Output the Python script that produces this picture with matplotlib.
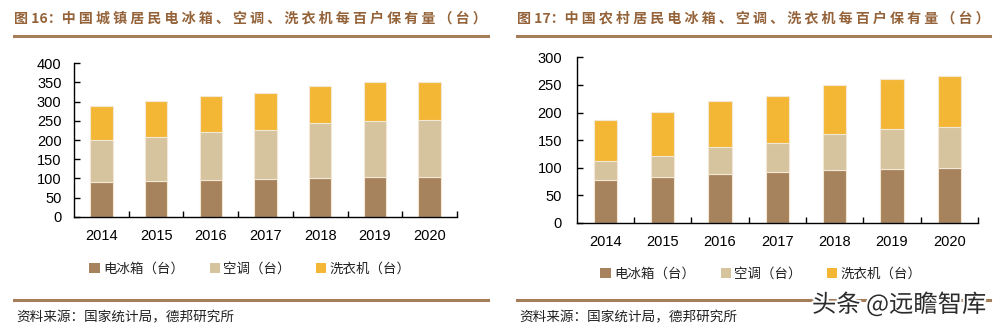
import matplotlib.pyplot as plt
import matplotlib.patheffects as pe
from matplotlib.lines import Line2D
from matplotlib.patches import Patch
import numpy as np

years = ['2014', '2015', '2016', '2017', '2018', '2019', '2020']

# 城镇居民每百户保有量（台）
urban_fridge = [91.7, 94.0, 96.4, 98.0, 100.9, 102.5, 103.1]
urban_ac = [107.4, 114.6, 123.7, 128.6, 142.2, 148.3, 149.6]
urban_washer = [90.7, 92.3, 94.2, 95.7, 97.7, 99.2, 99.7]

# 农村居民每百户保有量（台）
rural_fridge = [77.6, 82.6, 89.5, 91.7, 95.9, 98.6, 100.1]
rural_ac = [34.2, 38.8, 47.6, 52.6, 65.2, 71.3, 73.8]
rural_washer = [74.8, 78.8, 84.0, 86.3, 88.5, 91.6, 92.6]

series_names = ['电冰箱（台）', '空调（台）', '洗衣机（台）']
colors = ['#A6835C', '#D5C49D', '#F4B735']
edge = '#F3E7D6'
brown = '#A47D5B'
title_color = '#94633A'

CJK = ['Noto Sans CJK SC', 'DejaVu Sans']
NUM = 'Liberation Sans'

W, H = 1000, 328
fig = plt.figure(figsize=(W / 100, H / 100), dpi=100)


def fx(px):
    return px / W


def fy(py):
    return 1 - py / H


def spaced(s):
    return ' '.join(s)


def panel(rect, fridge, ac, washer, ymax, ystep, ypad, xpad):
    ax = fig.add_axes(rect)
    x = np.arange(len(years))
    f = np.array(fridge)
    a = np.array(ac)
    w = np.array(washer)
    kw = dict(width=0.41, edgecolor=edge, linewidth=0.8)
    ax.bar(x, f, color=colors[0], **kw)
    ax.bar(x, a, bottom=f, color=colors[1], **kw)
    ax.bar(x, w, bottom=f + a, color=colors[2], **kw)

    ax.set_xlim(-0.5, len(years) - 0.5)
    ax.set_ylim(0, ymax)
    ax.set_yticks(np.arange(0, ymax + 1, ystep))
    ax.set_xticks(x)
    ax.set_xticklabels(years)
    ax.set_xticks(np.arange(0.5, len(years), 1), minor=True)
    for s in ['top', 'right']:
        ax.spines[s].set_visible(False)
    for s in ['left', 'bottom']:
        ax.spines[s].set_linewidth(1.0)
        ax.spines[s].set_color('black')
    ax.tick_params(axis='y', direction='in', length=4, width=1.0, pad=ypad,
                   labelsize=10.5)
    ax.tick_params(axis='x', which='major', length=0, pad=xpad, labelsize=10.5)
    ax.tick_params(axis='x', which='minor', direction='in', length=4, width=1.0)
    for lab in ax.get_xticklabels() + ax.get_yticklabels():
        lab.set_fontfamily(NUM)
    return ax


panel([fx(74), fy(216.7), fx(457) - fx(74), fy(63.3) - fy(216.7)],
      urban_fridge, urban_ac, urban_washer, 400, 50, 9, 9)
panel([fx(576.7), fy(223), fx(978) - fx(576.7), fy(57.3) - fy(223)],
      rural_fridge, rural_ac, rural_washer, 300, 50, 10.5, 8.5)

titles = [
    (14, '图 16：' + spaced('中国城镇居民电冰箱、空调、洗衣机每百户保有量（台）')),
    (517, '图 17：' + spaced('中国农村居民电冰箱、空调、洗衣机每百户保有量（台）')),
]
for x0, t in titles:
    fig.text(fx(x0), fy(18.5), t, family=CJK, fontsize=10.1, fontweight='bold',
             color=title_color, ha='left', va='center')

# header and footer rules
for x0, x1 in [(14, 488), (517, 990)]:
    for y in [35.5, 300]:
        fig.add_artist(Line2D([fx(x0), fx(x1)], [fy(y), fy(y)],
                              color=brown, linewidth=2.2))
    fig.text(fx(x0 + 2), fy(317.5), '资料来源：国家统计局，德邦研究所', family=CJK,
             fontsize=9.8, color='#222222', ha='left', va='center')

handles = [Patch(facecolor=c, edgecolor='none') for c in colors]
for cx, cy in [(250, 269), (761, 274)]:
    leg = fig.legend(handles, series_names, loc='center',
                     bbox_to_anchor=(fx(cx), fy(cy)), ncol=3, frameon=False,
                     handlelength=0.75, handleheight=0.75, handletextpad=0.25,
                     columnspacing=1.9, prop={'family': CJK, 'size': 9.7})
    for t in leg.get_texts():
        t.set_color('#222222')

wm = fig.text(fx(899), fy(305), '头条 @远瞻智库', family=CJK, fontsize=17.5,
              color='#2b2b2b', ha='center', va='center')
wm.set_path_effects([pe.withStroke(linewidth=3, foreground='white')])

fig.savefig('out.png', dpi=100)
